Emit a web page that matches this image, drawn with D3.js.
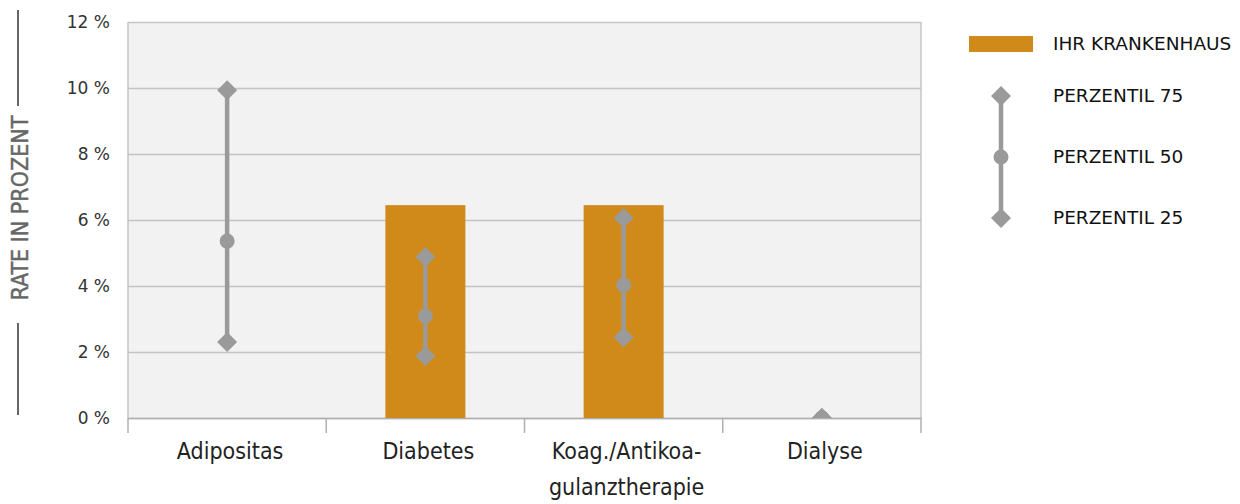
<!DOCTYPE html>
<html>
<head>
<meta charset="utf-8">
<script src="https://cdn.jsdelivr.net/npm/d3@7"></script>
<style>
  body { margin: 0; background: #fff; }
  svg { display: block; }
</style>
</head>
<body>
<div id="chart"></div>
<script>
// Qualitätsindikatoren - Rate in Prozent

const categories = ["Adipositas", "Diabetes", "Koag./Antikoa-gulanztherapie", "Dialyse"];
const labelLines = [["Adipositas"], ["Diabetes"], ["Koag./Antikoa-", "gulanztherapie"], ["Dialyse"]];
const hospital = [null, 6.45, 6.45, 0];
const p75 = [9.93, 4.88, 6.06, 0];
const p50 = [5.36, 3.09, 4.03, 0];
const p25 = [2.30, 1.88, 2.45, 0];
const yTicks = [0, 2, 4, 6, 8, 10, 12];
const legendLabels = ["IHR KRANKENHAUS", "PERZENTIL 75", "PERZENTIL 50", "PERZENTIL 25"];

const width = 1240,
    height = 504,
    margin = ({ top: 22, right: 319, bottom: 86, left: 128 });

const orange = "#d08a1a",
    gray = "#9a9a9a";

let svg = d3.select("#chart")
    .append("svg")
    .attr("width", width)
    .attr("height", height);

const x = d3.scaleBand()
    .domain(categories)
    .range([margin.left, width - margin.right]);

const y = d3.scaleLinear()
    .domain([0, 12])
    .range([height - margin.bottom, margin.top]);

// plot background
svg.append("rect")
    .attr("x", margin.left)
    .attr("y", margin.top)
    .attr("width", width - margin.right - margin.left)
    .attr("height", height - margin.bottom - margin.top)
    .attr("fill", "#f2f2f2");

svg.append("clipPath").attr("id", "plot")
    .append("rect")
    .attr("x", margin.left)
    .attr("y", margin.top)
    .attr("width", width - margin.right - margin.left)
    .attr("height", height - margin.bottom - margin.top);

// gridlines + y labels
const yAxis = g => g
    .attr("transform", `translate(${margin.left},0)`)
    .call(d3.axisLeft(y).tickValues(yTicks)
        .tickSize(-(width - margin.right - margin.left))
        .tickPadding(18)
        .tickFormat(d => d + " %"))
    .call(g => g.select(".domain").remove())
    .call(g => g.selectAll(".tick line").attr("stroke", "#c4c4c4").attr("stroke-width", 1.5))
    .call(g => g.selectAll(".tick text")
        .attr("font-family", "DejaVu Sans")
        .attr("font-size", 17)
        .attr("fill", "#333"));

svg.append("g").call(yAxis);

// left and right frame
svg.append("line")
    .attr("x1", margin.left).attr("x2", margin.left)
    .attr("y1", margin.top).attr("y2", height - margin.bottom)
    .attr("stroke", "#c4c4c4").attr("stroke-width", 1.5);
svg.append("line")
    .attr("x1", width - margin.right).attr("x2", width - margin.right)
    .attr("y1", margin.top).attr("y2", height - margin.bottom)
    .attr("stroke", "#c4c4c4").attr("stroke-width", 1.5);

// x axis with ticks at band edges
const xAxis = g => g
    .attr("transform", `translate(0,${height - margin.bottom})`)
    .call(d3.axisBottom(x).tickSize(0).tickFormat(""))
    .call(g => g.select(".domain").attr("stroke", "#b0b0b0").attr("stroke-width", 1.5));

svg.append("g").call(xAxis);

const edges = categories.map(c => x(c)).concat([x.range()[1]]);
svg.append("g").selectAll("line")
    .data(edges)
    .join("line")
    .attr("x1", d => d).attr("x2", d => d)
    .attr("y1", height - margin.bottom)
    .attr("y2", height - margin.bottom + 15)
    .attr("stroke", "#b0b0b0").attr("stroke-width", 1.5);

// x labels
svg.append("g").selectAll("text")
    .data(categories)
    .join("text")
    .attr("x", d => x(d) + x.bandwidth() / 2)
    .attr("y", height - margin.bottom + 41)
    .attr("text-anchor", "middle")
    .attr("font-family", "DejaVu Sans Condensed")
    .attr("font-size", 23)
    .attr("fill", "#222")
    .each(function(d, i) {
        d3.select(this).selectAll("tspan")
            .data(labelLines[i])
            .join("tspan")
            .attr("x", x(d) + x.bandwidth() / 2 + 3)
            .attr("dy", (t, j) => j === 0 ? 0 : 36)
            .text(t => t);
    });

// bars
const barW = 80;
svg.append("g").selectAll("rect")
    .data(categories.filter((c, i) => hospital[i] > 0))
    .join("rect")
    .attr("fill", orange)
    .attr("x", d => x(d) + x.bandwidth() / 2 - barW / 2)
    .attr("width", barW)
    .attr("y", d => y(hospital[categories.indexOf(d)]))
    .attr("height", d => y(0) - y(hospital[categories.indexOf(d)]));

// percentiles
const diamond = d3.symbol().type(d3.symbolSquare).size(200);
const marks = svg.append("g").attr("clip-path", "url(#plot)");

categories.forEach((c, i) => {
    const cx = x(c) + x.bandwidth() / 2;
    marks.append("line")
        .attr("x1", cx).attr("x2", cx)
        .attr("y1", y(p75[i])).attr("y2", y(p25[i]))
        .attr("stroke", gray).attr("stroke-width", 4.5);
    [p75[i], p25[i]].forEach(v => {
        marks.append("path")
            .attr("d", diamond)
            .attr("transform", `translate(${cx},${y(v)}) rotate(45)`)
            .attr("fill", gray);
    });
    marks.append("circle")
        .attr("cx", cx).attr("cy", y(p50[i]))
        .attr("r", 7.5)
        .attr("fill", gray);
});

// y title with lines
const titleX = 20, titleY = 208;
svg.append("text")
    .attr("transform", `translate(${titleX + 8},${titleY}) rotate(-90)`)
    .attr("text-anchor", "middle")
    .attr("font-family", "DejaVu Sans Condensed")
    .attr("font-size", 23)
    .attr("fill", "#666")
    .attr("stroke", "#666")
    .attr("stroke-width", 0.4)
    .text("RATE IN PROZENT");
svg.append("line")
    .attr("x1", 18).attr("x2", 18).attr("y1", 10).attr("y2", 106)
    .attr("stroke", "#666").attr("stroke-width", 2);
svg.append("line")
    .attr("x1", 18).attr("x2", 18).attr("y1", 323).attr("y2", 415)
    .attr("stroke", "#666").attr("stroke-width", 2);

// legend
const legend = svg.append("g");
const legendY = [44, 96, 157, 218];
legend.append("rect")
    .attr("x", 969).attr("y", 36)
    .attr("width", 64).attr("height", 16)
    .attr("fill", orange);
legend.append("line")
    .attr("x1", 1001).attr("x2", 1001)
    .attr("y1", legendY[1]).attr("y2", legendY[3])
    .attr("stroke", gray).attr("stroke-width", 4.5);
[legendY[1], legendY[3]].forEach(v => {
    legend.append("path")
        .attr("d", diamond)
        .attr("transform", `translate(1001,${v}) rotate(45)`)
        .attr("fill", gray);
});
legend.append("circle")
    .attr("cx", 1001).attr("cy", legendY[2]).attr("r", 7.5).attr("fill", gray);

legend.selectAll("text")
    .data(legendLabels)
    .join("text")
    .attr("x", 1053)
    .attr("y", (d, i) => legendY[i])
    .attr("dy", "0.35em")
    .attr("font-family", "DejaVu Sans")
    .attr("font-size", 18.5)
    .attr("fill", "#111")
    .text(d => d);
</script>
</body>
</html>
